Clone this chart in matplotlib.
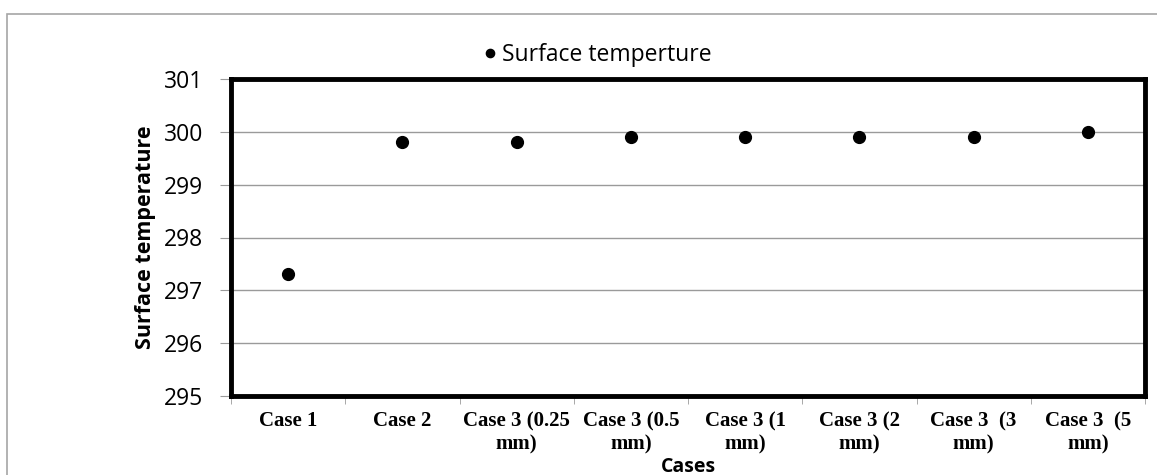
import numpy as np
import matplotlib
matplotlib.use('Agg')
import matplotlib.pyplot as plt
from matplotlib.patches import Rectangle

# data
cases = ['Case 1', 'Case 2', 'Case 3 (0.25\nmm)', 'Case 3 (0.5\nmm)',
         'Case 3 (1\nmm)', 'Case 3 (2\nmm)', 'Case 3  (3\nmm)', 'Case 3  (5\nmm)']
surface_temp = [297.3, 299.8, 299.8, 299.9, 299.9, 299.9, 299.9, 300.0]
yticks = [295, 296, 297, 298, 299, 300, 301]

fig = plt.figure(figsize=(11.57, 4.75), dpi=100)
# outer chart frame (gray), runs off the right and bottom edges
fig.patches.append(Rectangle((7/1157, -0.1), 1.2, 1.1 - 14/475, transform=fig.transFigure,
                             fill=False, edgecolor='#a6a6a6', linewidth=1.2))

ax = fig.add_axes([231/1157, 1-396/475, (1145-231)/1157, (396-79)/475])
x = np.arange(len(cases))
ax.plot(x, surface_temp, 'o', color='black', markersize=8.5, label='Surface temperture', zorder=3)

ax.set_xlim(-0.5, len(cases)-0.5)
ax.set_ylim(295, 301)
ax.set_yticks(yticks)
ax.set_yticklabels([str(v) for v in yticks], fontsize=16.5, family='Open Sans')
ax.yaxis.grid(True, color='#9a9a9a', linewidth=1)
ax.set_axisbelow(True)

# category labels centered, tick marks on the boundaries
ax.set_xticks(x)
ax.set_xticklabels(cases, fontsize=15, family='Liberation Serif', fontweight='bold',
                   linespacing=1.2)
ax.tick_params(axis='x', which='major', length=0, pad=11)
ax.set_xticks(np.arange(-0.5, len(cases), 1), minor=True)
ax.tick_params(axis='x', which='minor', length=6, color='#9a9a9a', direction='out')
ax.tick_params(axis='y', length=8, color='#9a9a9a', pad=12)

for s in ax.spines.values():
    s.set_linewidth(3.5)
    s.set_color('black')

ax.set_ylabel('Surface temperature', fontsize=15.5, fontweight='bold', family='Open Sans', labelpad=6)
ax.set_xlabel('Cases', fontsize=14, fontweight='bold', family='Open Sans', labelpad=2)

ax.legend(loc='center', bbox_to_anchor=(595/1157, 1-55/475), bbox_transform=fig.transFigure,
          frameon=False, prop={'family': 'Open Sans', 'size': 16.5}, handletextpad=0.05,
          markerscale=0.7, handlelength=1)

fig.savefig('out.png', dpi=100)
